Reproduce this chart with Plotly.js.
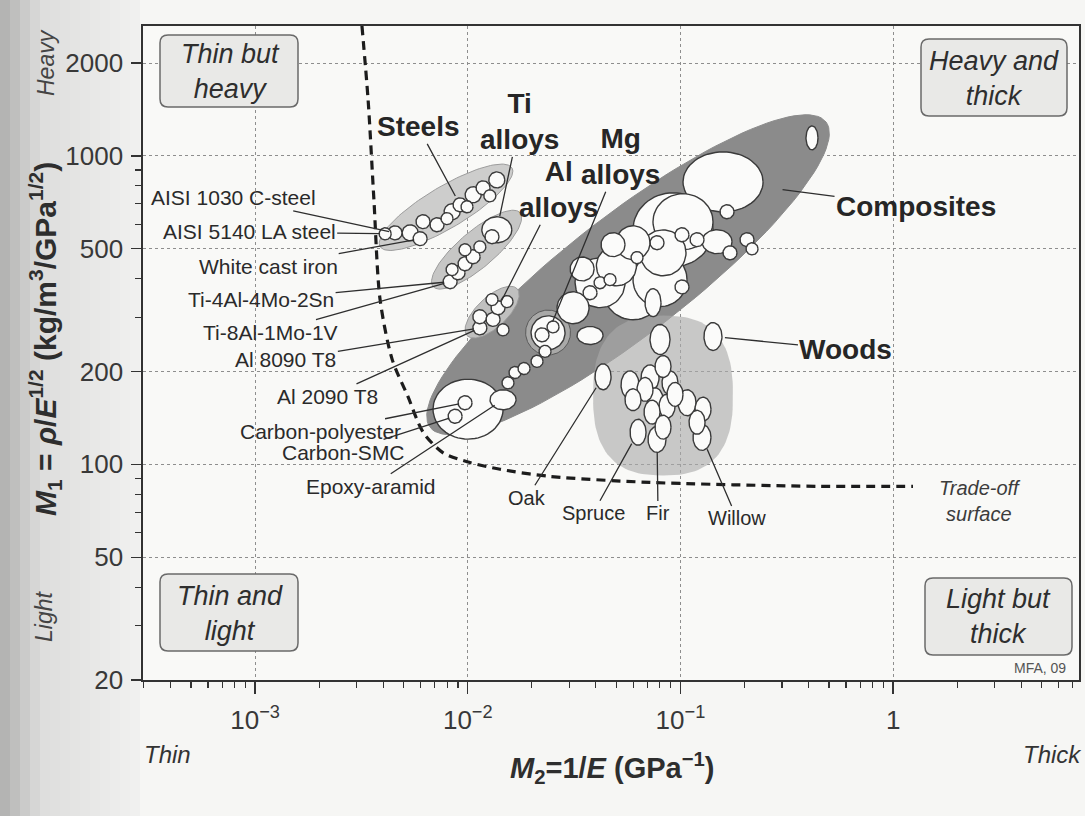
<!DOCTYPE html>
<html><head><meta charset="utf-8">
<script src="https://cdn.plot.ly/plotly-3.0.1.min.js"></script>
<style>html,body{margin:0;padding:0;background:#f6f6f4;}#chart{width:1085px;height:816px;}</style>
</head><body><div id="chart"></div>
<script>
// ---------------- DATA ----------------
// Bubbles: centre M2 (1/GPa), centre M1 (kg/m3/GPa^1/2), range ratios (hi/lo) in M2 and in M1
const steelM2 = [0.00409, 0.00455, 0.00536, 0.00597, 0.00616, 0.00717, 0.00799, 0.00844, 0.0092, 0.00992, 0.0106, 0.0118, 0.0127, 0.0137];
const steelM1 = [559, 563, 563, 539, 612, 598, 626, 659, 694, 684, 748, 788, 742, 836];
const steelSpanM2 = [1.139, 1.164, 1.189, 1.164, 1.164, 1.164, 1.139, 1.189, 1.164, 1.139, 1.189, 1.164, 1.139, 1.189];
const steelSpanM1 = [1.094, 1.110, 1.127, 1.110, 1.110, 1.110, 1.094, 1.127, 1.110, 1.094, 1.127, 1.110, 1.094, 1.127];

const tiM2 = [0.0137, 0.0130, 0.00826, 0.0090, 0.00971, 0.0106, 0.00971, 0.0114, 0.00844];
const tiM1 = [576, 547, 391, 418, 447, 471, 496, 507, 428];
const tiSpanM2 = [1.384, 1.164, 1.164, 1.164, 1.164, 1.164, 1.139, 1.139, 1.139];
const tiSpanM1 = [1.214, 1.110, 1.110, 1.110, 1.110, 1.110, 1.094, 1.094, 1.094];

const alM2 = [0.0114, 0.0114, 0.01315, 0.01388, 0.0153, 0.0130, 0.01465];
const alM1 = [277, 301, 295, 322, 337, 342, 273];
const alSpanM2 = [1.164, 1.164, 1.164, 1.164, 1.139, 1.139, 1.139];
const alSpanM1 = [1.110, 1.110, 1.110, 1.110, 1.094, 1.094, 1.094];

const compM2 = [0.01003, 0.00971, 0.00872, 0.01465, 0.01546, 0.01668, 0.01839, 0.02117, 0.02309, 0.02385, 0.02235, 0.02517, 0.03126, 0.03758, 0.04188, 0.03758, 0.04188, 0.04667, 0.05985, 0.08017, 0.07432, 0.1017, 0.05985, 0.0625, 0.08282, 0.07761, 0.09229, 0.1586, 0.1656, 0.1017, 0.1197, 0.1486, 0.171, 0.2056, 0.2171, 0.4155, 0.04821, 0.1028, 0.0500, 0.0345];
const compM1 = [151, 158.4, 143.2, 162, 183.8, 198.5, 204.5, 215.8, 232.5, 267, 263, 279, 321.8, 261.7, 388, 360, 388, 397, 368, 397, 334.4, 376, 523, 468, 485, 523, 576, 823.6, 659, 555, 535, 527, 485, 535, 499.7, 1144, 515.4, 611.8, 440, 430];
const compSpanM2 = [2.135, 1.164, 1.164, 1.326, 1.139, 1.139, 1.139, 1.139, 1.139, 1.445, 1.164, 1.139, 1.414, 1.326, 1.718, 1.164, 1.139, 1.139, 1.915, 1.794, 1.189, 1.164, 1.445, 1.139, 1.645, 1.164, 2.379, 2.379, 1.164, 1.164, 1.164, 1.384, 1.164, 1.164, 1.139, 1.139, 1.297, 1.915, 1.543, 1.297];
const compSpanM1 = [1.564, 1.110, 1.110, 1.161, 1.094, 1.094, 1.094, 1.094, 1.094, 1.288, 1.110, 1.094, 1.269, 1.144, 1.451, 1.110, 1.094, 1.094, 1.564, 1.496, 1.232, 1.110, 1.288, 1.094, 1.409, 1.110, 1.736, 1.564, 1.110, 1.110, 1.110, 1.196, 1.110, 1.110, 1.094, 1.196, 1.196, 1.517, 1.347, 1.196];

const woodM2 = [0.1422, 0.08017, 0.04326, 0.05794, 0.07195, 0.08282, 0.08934, 0.05985, 0.07595, 0.08649, 0.1074, 0.1277, 0.07353, 0.06319, 0.07761, 0.08282, 0.1197, 0.1263, 0.06816, 0.0943];
const woodM1 = [259.7, 254, 192.3, 181.1, 190.8, 207.6, 183.8, 162, 162, 154.4, 158.4, 151, 147.7, 127.1, 120.5, 132, 136.9, 122.3, 175, 168.6];
const woodSpanM2 = [1.215, 1.242, 1.189, 1.215, 1.215, 1.189, 1.189, 1.189, 1.189, 1.189, 1.215, 1.189, 1.189, 1.189, 1.215, 1.189, 1.189, 1.215, 1.189, 1.189];
const woodSpanM1 = [1.232, 1.251, 1.214, 1.232, 1.214, 1.178, 1.196, 1.178, 1.196, 1.196, 1.214, 1.196, 1.196, 1.214, 1.214, 1.196, 1.196, 1.214, 1.196, 1.196];

// Family envelopes: two end points (M2, M1) and width/length ratio
const envNames  = ['Composites', 'Steels', 'Ti alloys', 'Al alloys', 'Mg alloys', 'Woods'];
const envM2a    = [0.00665, 0.00387, 0.00687, 0.00993, 0.02006, 0.0828];
const envM1a    = [131.8, 508, 377, 261.5, 237.8, 303.6];
const envM2b    = [0.4835, 0.01614, 0.01762, 0.01706, 0.02836, 0.0828];
const envM1b    = [1288, 914, 654, 371, 300.9, 92.1];
const envRatio  = [0.24, 0.27, 0.32, 0.44, 1.0, 0.875];

// Trade-off surface
const tradeM2 = [0.00318, 0.0034, 0.00362, 0.00387, 0.00441, 0.00523, 0.00617, 0.00766, 0.00993, 0.01419, 0.02438, 0.0719, 0.4385, 1.24];
const tradeM1 = [2640, 1517, 721, 342, 219, 166, 127, 109, 102, 96.4, 91.4, 87.4, 84.9, 84.9];

// Tick labels
const xTickVals = [0.001, 0.01, 0.1, 1];
const xTickText = ['10<sup>−3</sup>', '10<sup>−2</sup>', '10<sup>−1</sup>', '1'];
const yTickVals = [20, 50, 100, 200, 500, 1000, 2000];
const yTickText = ['20', '50', '100', '200', '500', '1000', '2000'];

// ---------------- LAYOUT GEOMETRY / STYLE ----------------
const FONT = 'Liberation Sans, Arial, Helvetica, sans-serif';
const W = 1085, H = 816;
const M = {l: 143, r: 6, t: 26, b: 136};
const PW = W - M.l - M.r, PH = H - M.t - M.b;
const X_RANGE = [-3.527, 0.874];
const Y_RANGE = [Math.log10(20), 3.421];
const SX = PW / (X_RANGE[1] - X_RANGE[0]);
const SY = PH / (Y_RANGE[1] - Y_RANGE[0]);
const px2paperX = p => (p - M.l) / PW;
const px2paperY = p => (H - M.b - p) / PH;

const envStyle = {
  'Composites': {fill: '#8b8b8b', line: '#8b8b8b', n: 2},
  'Steels':     {fill: '#cdcdcc', line: '#9c9c9c', n: 2},
  'Ti alloys':  {fill: '#c6c6c5', line: '#9c9c9c', n: 2},
  'Al alloys':  {fill: '#c0c0bf', line: '#9c9c9c', n: 2},
  'Mg alloys':  {fill: '#a9a9a8', line: '#5a5a5a', n: 2},
  'Woods':      {fill: 'rgba(170,170,170,0.62)', line: 'rgba(0,0,0,0)', n: 2.6}
};

function bubbleOutline(m2, m1, s2, s1) {
  const lx = Math.log10(m2), ly = Math.log10(m1);
  const hx = Math.log10(s2) / 2, hy = Math.log10(s1) / 2;
  const xs = [], ys = [];
  for (let k = 0; k <= 64; k++) {
    const t = 2 * Math.PI * k / 64;
    xs.push(Math.pow(10, lx + hx * Math.cos(t)));
    ys.push(Math.pow(10, ly + hy * Math.sin(t)));
  }
  return {xs, ys};
}

function envelopeOutline(xa, ya, xb, yb, ratio, n) {
  const ua = Math.log10(xa) * SX, va = Math.log10(ya) * SY;
  const ub = Math.log10(xb) * SX, vb = Math.log10(yb) * SY;
  const cu = (ua + ub) / 2, cv = (va + vb) / 2;
  const a = Math.hypot(ub - ua, vb - va) / 2, b = a * ratio;
  const th = Math.atan2(vb - va, ub - ua);
  const xs = [], ys = [];
  for (let k = 0; k <= 120; k++) {
    const t = 2 * Math.PI * k / 120;
    const c = Math.cos(t), s = Math.sin(t);
    const p = Math.sign(c) * Math.pow(Math.abs(c), 2 / n) * a;
    const q = Math.sign(s) * Math.pow(Math.abs(s), 2 / n) * b;
    const u = cu + p * Math.cos(th) - q * Math.sin(th);
    const v = cv + p * Math.sin(th) + q * Math.cos(th);
    xs.push(Math.pow(10, u / SX));
    ys.push(Math.pow(10, v / SY));
  }
  return {xs, ys};
}

const traces = [];
envNames.forEach((name, i) => {
  const st = envStyle[name];
  const o = envelopeOutline(envM2a[i], envM1a[i], envM2b[i], envM1b[i], envRatio[i], st.n);
  traces.push({type: 'scatter', mode: 'lines', x: o.xs, y: o.ys, fill: 'toself',
    fillcolor: st.fill, line: {color: st.line, width: 1}, hoverinfo: 'skip', showlegend: false});
});

const groups = [
  [steelM2, steelM1, steelSpanM2, steelSpanM1],
  [tiM2, tiM1, tiSpanM2, tiSpanM1],
  [alM2, alM1, alSpanM2, alSpanM1],
  [compM2, compM1, compSpanM2, compSpanM1],
  [woodM2, woodM1, woodSpanM2, woodSpanM1]
];
const bubbles = [];
groups.forEach(g => g[0].forEach((v, i) => bubbles.push({m2: v, m1: g[1][i], s2: g[2][i], s1: g[3][i]})));
bubbles.sort((p, q) => Math.log(q.s2) * Math.log(q.s1) - Math.log(p.s2) * Math.log(p.s1));
bubbles.forEach(bb => {
  const o = bubbleOutline(bb.m2, bb.m1, bb.s2, bb.s1);
  traces.push({type: 'scatter', mode: 'lines', x: o.xs, y: o.ys, fill: 'toself',
    fillcolor: '#fbfbfa', line: {color: '#3a3a3a', width: 1.4}, hoverinfo: 'skip', showlegend: false});
});

traces.push({type: 'scatter', mode: 'lines', x: tradeM2, y: tradeM1,
  line: {color: '#1c1c1c', width: 3.2, dash: '9px,6px', shape: 'spline', smoothing: 0.8},
  hoverinfo: 'skip', showlegend: false});

// minor tick positions (2..9 x each decade)
const minorX = [], minorY = [];
for (let e = -4; e <= 0; e++) for (let m = 2; m <= 9; m++) minorX.push(m * Math.pow(10, e));
for (let e = 1; e <= 3; e++) for (let m = 2; m <= 9; m++) if (m !== 5 && !(e === 3 && m === 2)) minorY.push(m * Math.pow(10, e));

// ---------------- ANNOTATIONS ----------------
const ann = [];
function label(text, m2, m1, ax, ay, size, opts) {
  ann.push(Object.assign({x: Math.log10(m2), y: Math.log10(m1), xref: 'x', yref: 'y', text: text,
    showarrow: true, arrowhead: 0, arrowwidth: 1.3, arrowcolor: '#2e2e2e', ax: ax, ay: ay,
    standoff: 6, font: {family: FONT, size: size, color: '#2a2a2a'}}, opts || {}));
}
// material labels (left)
label('AISI 1030 C-steel', steelM2[1], steelM1[1], -162, -35, 21);
label('AISI 5140 LA steel', steelM2[0], steelM1[0], -136, -2, 21);
label('White cast iron', steelM2[3], steelM1[3], -152, 28, 21);
label('Ti-4Al-4Mo-2Sn', tiM2[2], tiM1[2], -189, 18, 21);
label('Ti-8Al-1Mo-1V', tiM2[2], tiM1[2], -180, 51, 21);
label('Al 8090 T8', alM2[0], alM1[0], -194, 32, 21);
label('Al 2090 T8', alM2[0], alM1[0], -152, 69, 21);
label('Carbon-polyester', compM2[1], compM1[1], -145, 29, 21);
label('Carbon-SMC', compM2[2], compM1[2], -112, 36, 21);
label('Epoxy-aramid', compM2[3], compM1[3], -132, 87, 21, {standoff: 10});
// family labels
const bold = {family: FONT, size: 28, color: '#262626'};
label('<b>Steels</b>', steelM2[8], steelM1[8], -42, -78, 28, {standoff: 10, font: bold});
label('<b>Ti<br>alloys</b>', tiM2[0], tiM1[0], 23, -108, 28, {standoff: 14, font: bold});
label('<b>Mg<br>alloys</b>', compM2[9], compM1[9], 72, -176, 28, {standoff: 12, font: bold});
label('<b>Al<br>alloys</b>', alM2[3], alM1[3], 60, -118, 28, {standoff: 8, font: bold});
label('<b>Composites</b>', compM2[27], compM1[27], 193, 25, 28, {standoff: 60, font: bold});
label('<b>Woods</b>', woodM2[0], woodM1[0], 133, 13, 28, {standoff: 12, font: bold});
// woods species
label('Oak', woodM2[2], woodM1[2], -76, 121, 20, {standoff: 13});
label('Spruce', woodM2[13], woodM1[13], -45, 81, 20, {standoff: 13});
label('Fir', woodM2[14], woodM1[14], 1, 74, 20, {standoff: 13});
label('Willow', woodM2[17], woodM1[17], 35, 81, 20, {standoff: 13});

function paperText(text, px, py, size, opts) {
  ann.push(Object.assign({xref: 'paper', yref: 'paper', x: px2paperX(px), y: px2paperY(py),
    text: text, showarrow: false, xanchor: 'center', yanchor: 'middle',
    font: {family: FONT, size: size, color: '#2e2e2e'}}, opts || {}));
}
paperText('<i>Trade-off<br>surface</i>', 980, 501, 20, {font: {family: FONT, size: 20, color: '#3c3c3c'}});
paperText('<i>Thin but<br>heavy</i>', 230, 71, 27);
paperText('<i>Heavy and<br>thick</i>', 994, 78, 27);
paperText('<i>Thin and<br>light</i>', 230, 613, 27);
paperText('<i>Light but<br>thick</i>', 998, 616, 27);
paperText('MFA, 09', 1040, 668, 14, {font: {family: FONT, size: 14, color: '#555'}});
paperText('<i>Heavy</i>', 46, 63, 23, {textangle: -90, font: {family: FONT, size: 23, color: '#444'}});
paperText('<i>Light</i>', 44, 617, 23, {textangle: -90, font: {family: FONT, size: 23, color: '#444'}});
paperText('<i>Thin</i>', 167, 754, 24, {font: {family: FONT, size: 24, color: '#333'}});
paperText('<i>Thick</i>', 1052, 754, 24, {font: {family: FONT, size: 24, color: '#333'}});
paperText('<b><i>M</i><sub>1</sub> = <i>ρ</i>/<i>E</i><sup>1/2</sup> (kg/m<sup>3</sup>/GPa<sup>1/2</sup>)</b>', 45, 339, 30, {textangle: -90});
paperText('<b><i>M</i><sub>2</sub>=1/<i>E</i> (GPa<sup>−1</sup>)</b>', 612, 768, 29);

// ---------------- SHAPES ----------------
const shapes = [];
// scanned-page shading on the left edge
for (let i = 0; i < 14; i++) {
  const g = Math.round(i < 4 ? 180 + 45 * (i / 4) : 222 + (240 - 222) * ((i - 4) / 9));
  shapes.push({type: 'rect', xref: 'paper', yref: 'paper', layer: 'below',
    x0: px2paperX(i * 10), x1: px2paperX(i * 10 + 10), y0: px2paperY(H), y1: px2paperY(0),
    fillcolor: `rgb(${g},${g},${g - 1})`, line: {width: 0}});
}
function roundBox(x0, y0, x1, y1, r) {
  const P = (x, y) => px2paperX(x).toFixed(5) + ',' + px2paperY(y).toFixed(5);
  const d = `M${P(x0 + r, y0)} L${P(x1 - r, y0)} Q${P(x1, y0)} ${P(x1, y0 + r)} L${P(x1, y1 - r)} Q${P(x1, y1)} ${P(x1 - r, y1)} L${P(x0 + r, y1)} Q${P(x0, y1)} ${P(x0, y1 - r)} L${P(x0, y0 + r)} Q${P(x0, y0)} ${P(x0 + r, y0)} Z`;
  shapes.push({type: 'path', xref: 'paper', yref: 'paper', path: d, layer: 'above',
    fillcolor: '#e9e9e7', line: {color: '#6a6a6a', width: 1.5}});
}
roundBox(160, 35, 298, 107, 8);
roundBox(921, 39, 1067, 116, 8);
roundBox(160, 574, 298, 651, 8);
roundBox(925, 578, 1072, 655, 8);

// ---------------- AXES ----------------
const axisCommon = {
  type: 'log', showline: true, mirror: true, linecolor: '#333', linewidth: 1.6,
  ticks: 'outside', tickcolor: '#333', tickwidth: 1.4, tickmode: 'array',
  showgrid: true, gridcolor: '#8e8e8e', griddash: 'dot', gridwidth: 1, zeroline: false,
  tickfont: {family: FONT, size: 26, color: '#383838'}
};
const layout = {
  width: W, height: H, margin: M,
  paper_bgcolor: '#f6f6f4', plot_bgcolor: '#f9f9f7',
  font: {family: FONT},
  xaxis: Object.assign({}, axisCommon, {range: X_RANGE, tickvals: xTickVals, ticktext: xTickText,
    ticklen: 12, ticklabelstandoff: 4,
    minor: {ticks: 'outside', ticklen: 6, tickcolor: '#333', tickwidth: 1.2, tickmode: 'array', tickvals: minorX, showgrid: false}}),
  yaxis: Object.assign({}, axisCommon, {range: Y_RANGE, tickvals: yTickVals, ticktext: yTickText,
    ticklen: 10, ticklabelstandoff: 3,
    minor: {ticks: 'outside', ticklen: 6, tickcolor: '#333', tickwidth: 1.2, tickmode: 'array', tickvals: minorY, showgrid: false}}),
  annotations: ann,
  shapes: shapes,
  showlegend: false
};

Plotly.newPlot('chart', traces, layout, {displayModeBar: false, staticPlot: true});
</script>
</body></html>
